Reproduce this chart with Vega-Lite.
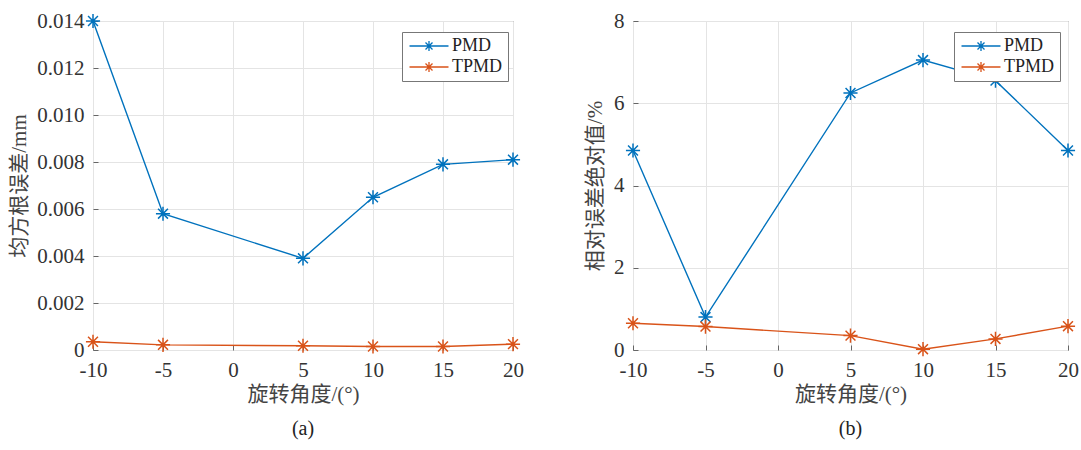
{
  "$schema": "https://vega.github.io/schema/vega-lite/v6.json",
  "padding": {"left": 8, "top": 9, "right": 5, "bottom": 5},
  "background": "white",
  "datasets": {
    "a": [
      {"angle": -10, "series": "PMD", "value": 0.0140},
      {"angle": -5, "series": "PMD", "value": 0.0058},
      {"angle": 5, "series": "PMD", "value": 0.0039},
      {"angle": 10, "series": "PMD", "value": 0.0065},
      {"angle": 15, "series": "PMD", "value": 0.0079},
      {"angle": 20, "series": "PMD", "value": 0.0081},
      {"angle": -10, "series": "TPMD", "value": 0.00035},
      {"angle": -5, "series": "TPMD", "value": 0.00022},
      {"angle": 5, "series": "TPMD", "value": 0.00018},
      {"angle": 10, "series": "TPMD", "value": 0.00015},
      {"angle": 15, "series": "TPMD", "value": 0.00015},
      {"angle": 20, "series": "TPMD", "value": 0.00025}
    ],
    "b": [
      {"angle": -10, "series": "PMD", "value": 4.85},
      {"angle": -5, "series": "PMD", "value": 0.8},
      {"angle": 5, "series": "PMD", "value": 6.25},
      {"angle": 10, "series": "PMD", "value": 7.05},
      {"angle": 15, "series": "PMD", "value": 6.55},
      {"angle": 20, "series": "PMD", "value": 4.85},
      {"angle": -10, "series": "TPMD", "value": 0.65},
      {"angle": -5, "series": "TPMD", "value": 0.57},
      {"angle": 5, "series": "TPMD", "value": 0.35},
      {"angle": 10, "series": "TPMD", "value": 0.02},
      {"angle": 15, "series": "TPMD", "value": 0.27},
      {"angle": 20, "series": "TPMD", "value": 0.58}
    ]
  },
  "hconcat": [
    {
      "width": 420,
      "height": 329,
      "title": {"text": "(a)", "orient": "bottom", "anchor": "middle", "frame": "group", "offset": 15, "fontSize": 20, "font": "Liberation Serif", "fontWeight": "normal", "color": "#222"},
      "data": {"name": "a"},
      "encoding": {
        "x": {"field": "angle", "type": "quantitative", "scale": {"domain": [-10, 20], "nice": false},
              "axis": {"values": [-10, -5, 0, 5, 10, 15, 20], "title": "旋转角度/(°)",
                       "labelExpr": "datum.value < 0 ? '-' + abs(datum.value) : '' + datum.value"}},
        "y": {"field": "value", "type": "quantitative", "scale": {"domain": [0, 0.014], "nice": false},
              "axis": {"values": [0, 0.002, 0.004, 0.006, 0.008, 0.01, 0.012, 0.014], "title": "均方根误差/mm",
                       "labelExpr": "datum.value == 0 ? '0' : format(datum.value, '.3f')", "titlePadding": 7}},
        "color": {"field": "series", "type": "nominal",
                  "scale": {"domain": ["PMD", "TPMD"], "range": ["#0072BD", "#D95319"]},
                  "legend": {"title": null, "orient": "none", "legendX": 309, "legendY": 11}}
      },
      "layer": [
        {"mark": {"type": "line", "strokeWidth": 1.4}},
        {"mark": {"type": "point", "filled": false, "strokeWidth": 1.5, "size": 200, "opacity": 1,
                  "shape": "M-1,0L1,0M0,-1L0,1M-0.7,-0.7L0.7,0.7M-0.7,0.7L0.7,-0.7"}}
      ]
    },
    {
      "width": 435,
      "height": 329,
      "title": {"text": "(b)", "orient": "bottom", "anchor": "middle", "frame": "group", "offset": 15, "fontSize": 20, "font": "Liberation Serif", "fontWeight": "normal", "color": "#222"},
      "data": {"name": "b"},
      "encoding": {
        "x": {"field": "angle", "type": "quantitative", "scale": {"domain": [-10, 20], "nice": false},
              "axis": {"values": [-10, -5, 0, 5, 10, 15, 20], "title": "旋转角度/(°)",
                       "labelExpr": "datum.value < 0 ? '-' + abs(datum.value) : '' + datum.value"}},
        "y": {"field": "value", "type": "quantitative", "scale": {"domain": [0, 8], "nice": false},
              "axis": {"values": [0, 2, 4, 6, 8], "title": "相对误差绝对值/%", "titlePadding": 8}},
        "color": {"field": "series", "type": "nominal",
                  "scale": {"domain": ["PMD", "TPMD"], "range": ["#0072BD", "#D95319"]},
                  "legend": {"title": null, "orient": "none", "legendX": 321, "legendY": 11}}
      },
      "layer": [
        {"mark": {"type": "line", "strokeWidth": 1.4}},
        {"mark": {"type": "point", "filled": false, "strokeWidth": 1.5, "size": 200, "opacity": 1,
                  "shape": "M-1,0L1,0M0,-1L0,1M-0.7,-0.7L0.7,0.7M-0.7,0.7L0.7,-0.7"}}
      ]
    }
  ],
  "spacing": 120,
  "bounds": "flush",
  "resolve": {"scale": {"color": "independent"}, "legend": {"color": "independent"}},
  "config": {
    "font": "Liberation Serif",
    "view": {"stroke": "#666", "strokeWidth": 1},
    "axis": {
      "labelFont": "Liberation Serif",
      "labelFontSize": 21,
      "labelColor": "#333",
      "titleFont": "Liberation Serif, Noto Sans CJK SC",
      "titleFontSize": 21,
      "titleFontWeight": "normal",
      "titleColor": "#444",
      "grid": true,
      "gridColor": "#e4e4e4",
      "gridWidth": 1,
      "domain": false,
      "tickColor": "#666",
      "tickSize": -5,
      "labelFlush": false,
      "labelOverlap": false
    },
    "axisX": {"labelPadding": 14, "titlePadding": 3},
    "axisY": {"labelPadding": 14},
    "legend": {
      "strokeColor": "#777",
      "fillColor": "white",
      "padding": 5,
      "cornerRadius": 0,
      "labelFont": "Liberation Serif",
      "labelFontSize": 18,
      "labelColor": "#222",
      "symbolType": "M-3.9,0L3.9,0M0,-1L0,1M-0.7,-0.7L0.7,0.7M-0.7,0.7L0.7,-0.7",
      "symbolSize": 100,
      "symbolStrokeWidth": 1.3,
      "symbolOffset": 13,
      "labelOffset": 14,
      "rowPadding": 3
    }
  }
}
